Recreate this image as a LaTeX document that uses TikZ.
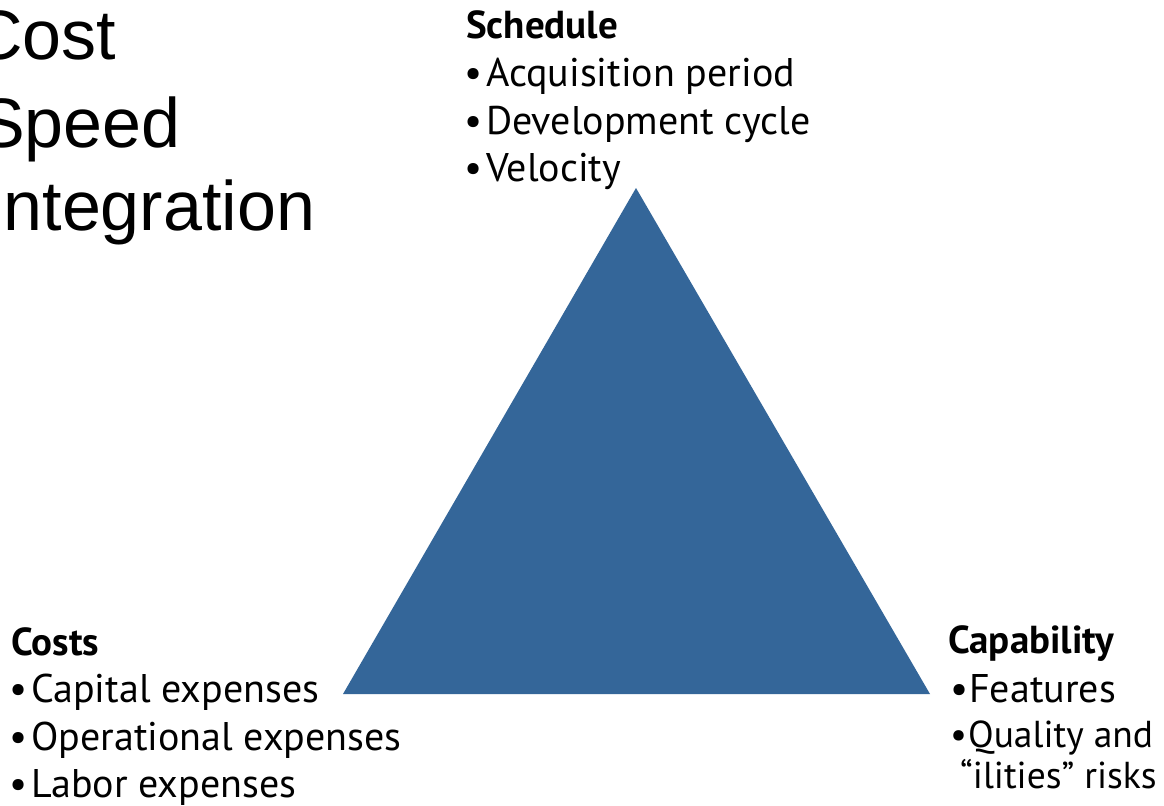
\documentclass[tikz,border=0pt]{standalone}
\usepackage{fontspec}
\setmainfont{PT Sans}
\newfontfamily\arialfont{Liberation Sans}
\definecolor{triblue}{RGB}{52,102,153}
\tikzset{
  head/.style={anchor=base west, inner sep=0pt, font=\fontsize{39bp}{44bp}\selectfont\bfseries},
  item/.style={anchor=base west, inner sep=0pt, font=\fontsize{40bp}{47bp}\selectfont},
  itemsmall/.style={item, font=\fontsize{37.5bp}{44bp}\selectfont},
  big/.style={anchor=base west, inner sep=0pt, font=\arialfont\fontsize{70bp}{85bp}\selectfont},
}
\begin{document}
\begin{tikzpicture}[x=1bp, y=-1bp]
      % page frame, cuts the big text at the left edge
      \clip (0,0) rectangle (1164,806);
      \fill[white] (0,0) rectangle (1164,806);

      % big text, top left
      \node[big] (cost) at (-28,60) {Cost};
      \node[big] (speed) at (-22,147) {Speed};
      \node[big] (integ) at (-16,230) {Integration};

      % the triangle
      \fill[triblue] (636,188) -- (343,694) -- (930,694) -- cycle;

      % Schedule (top)
      \node[head] (sched) at (466,39) {Schedule};
      \node[item] (sched1) at (464,87) {•\hspace{4bp}Acquisition period};
      \node[item] (sched2) at (464,134) {•\hspace{4bp}Development cycle};
      \node[item] (sched3) at (464,181) {•\hspace{4bp}Velocity};

      % Costs (bottom left)
      \node[head] (costs) at (11,655) {Costs};
      \node[item] (costs1) at (9,702) {•\hspace{4bp}Capital expenses};
      \node[item] (costs2) at (9,750) {•\hspace{4bp}Operational expenses};
      \node[item] (costs3) at (9,797) {•\hspace{4bp}Labor expenses};

      % Capability (bottom right)
      \node[head] (capab) at (948,653) {Capability};
      \node[item] (capab1) at (950,702) {•\hspace{1bp}Features};
      \node[itemsmall] (capab2) at (950,747) {•\hspace{1bp}Quality and};
      \node[itemsmall] (capab3) at (960,788) {“ilities” risks};
\end{tikzpicture}
\end{document}
